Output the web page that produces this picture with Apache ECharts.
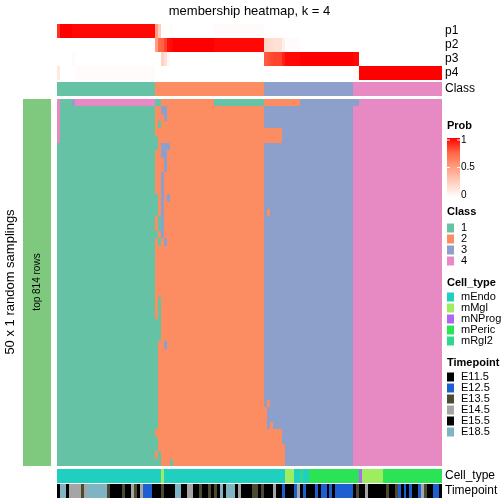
<!DOCTYPE html>
<html><head><meta charset="utf-8">
<script src="https://cdn.jsdelivr.net/npm/echarts@6/dist/echarts.min.js"></script>
<style>html,body{margin:0;padding:0;background:#fff}#c{width:504px;height:504px}</style>
</head><body><div id="c"></div>
<script>
// ---------------- data ----------------
const titleText = 'membership heatmap, k = 4';
const probRowLabels = ['p1', 'p2', 'p3', 'p4'];
const classNames = ['1', '2', '3', '4'];
const cellTypeNames = ['mEndo', 'mMgl', 'mNProg', 'mPeric', 'mRgl2'];
const timepointNames = ['E11.5', 'E12.5', 'E13.5', 'E14.5', 'E15.5', 'E18.5'];
const nSamplings = 50;
const probTicks = [0, 0.5, 1];

// column class, run-length [class, count]
const columnClassRuns = [[1, 33], [2, 37], [3, 30], [4, 30]];
// membership probabilities per column, run-length [value, count]
const p1Runs = [[0.88,1],[1,4],[0.98,28],[0.5,1],[0.26,1],[0,3],[0.02,1],[0,14],[0.02,17],[0,60]];
const p2Runs = [[0,33],[0.5,1],[0.74,1],[0.76,1],[0.84,1],[0.96,1],[0.98,1],[1,14],[0.98,17],[0.22,1],[0.2,1],[0.18,1],[0.16,3],[0.08,1],[0.02,5],[0,48]];
const p3Runs = [[0,5],[0.02,1],[0,29],[0.24,1],[0.16,1],[0.04,1],[0,32],[0.78,1],[0.8,1],[0.82,1],[0.84,3],[0.92,1],[0.98,5],[1,18],[0.98,2],[0,28]];
const p4Runs = [[0.12,1],[0,5],[0.02,27],[0,67],[0.02,2],[1,28]];
// sampling rows whose class differs from the column class: [rowFrom, rowTo, colFrom, colTo, class]
const samplingOverrides = [
  [0,0,0,0,4],[0,0,1,4,1],[0,0,5,5,3],[0,0,6,32,4],[0,0,33,34,1],[0,0,53,69,1],[0,0,70,81,2],[0,0,100,101,3],
  [1,5,0,0,4],
  [1,1,35,36,3],[2,2,36,36,3],[3,3,34,34,1],[4,5,70,75,2],[5,6,33,33,1],[6,6,35,37,3],[7,7,35,36,3],[8,9,36,36,3],
  [10,18,35,35,3],[13,15,33,33,1],[13,13,37,37,3],[15,15,71,71,2],[16,17,34,34,1],[18,18,33,33,1],[19,19,34,34,1],[19,19,36,36,3],
  [27,29,34,34,1],[30,32,33,34,1],[33,33,33,33,1],[33,33,36,36,3],[34,44,33,33,1],[41,41,71,71,2],[42,44,70,70,2],[44,44,72,72,2],
  [45,46,70,75,2],[46,47,33,33,1],[47,49,70,76,2],[48,48,34,34,1],[49,49,33,34,1],[49,49,38,38,1]
];
// cell type per column (index into cellTypeNames), run-length
const cellTypeRuns = [[0,35],[1,1],[0,41],[1,3],[0,2],[4,1],[0,2],[3,17],[2,1],[1,7],[3,20]];
// timepoint per column (index into timepointNames), run-length
const timepointRuns = [[0,1],[5,2],[0,1],[3,4],[2,1],[3,1],[5,7],[2,1],[0,4],[2,1],[0,2],[3,1],[2,1],[0,1],[3,1],[1,3],[0,3],[2,1],[0,4],[5,2],[0,2],[3,2],[0,2],[2,1],[0,2],[2,1],[0,1],[2,1],[0,1],[5,1],[0,1],[5,3],[0,1],[3,1],[0,4],[2,2],[0,1],[2,1],[0,3],[3,1],[0,2],[1,1],[0,3],[1,1],[3,1],[0,1],[1,1],[0,3],[1,1],[0,1],[1,2],[0,1],[1,1],[0,1],[1,6],[0,1],[2,1],[0,2],[3,1],[0,6],[2,1],[0,2],[2,1],[1,1],[0,1],[1,1],[0,1],[1,1],[0,2],[1,1],[3,1],[2,1],[0,2],[1,2],[0,1]];

// ---------------- styles ----------------
const probColors = ['#ffffff', '#ffcfbf', '#ff9e81', '#ff6746', '#ff0000'];
const classColors = ['#66c2a5', '#fc8d62', '#8da0cb', '#e78ac3'];
const cellTypeColors = ['#1fcfbf', '#9ded5f', '#b066f2', '#2ae456', '#33d68f'];
const timepointColors = ['#000000', '#1c5fd1', '#4d4a31', '#a5a5a5', '#040404', '#7fb4c3'];
const barColor = '#7fc97f';
const FONT = '"Liberation Sans", Arial, Helvetica, sans-serif';

function expandRuns(runs) { const out = []; runs.forEach(([v, n]) => { for (let i = 0; i < n; i++) out.push(v); }); return out; }

const colClass = expandRuns(columnClassRuns);
const probs = [p1Runs, p2Runs, p3Runs, p4Runs].map(expandRuns);
const cellTypes = expandRuns(cellTypeRuns);
const timepoints = expandRuns(timepointRuns);
const colLabels = colClass.map((_, i) => String(i));
const rowLabels = Array.from({length: nSamplings}, (_, i) => String(i + 1));

const matrix = rowLabels.map(() => colClass.slice());
samplingOverrides.forEach(([r0, r1, c0, c1, k]) => { for (let r = r0; r <= r1; r++) for (let c = c0; c <= c1; c++) matrix[r][c] = k; });

const probData = [];
probs.forEach((arr, r) => arr.forEach((v, c) => probData.push([c, r, v])));
const classData = colClass.map((k, c) => [c, 0, k]);
const mainData = [];
matrix.forEach((row, r) => row.forEach((k, c) => mainData.push([c, r, k])));
const cellData = cellTypes.map((k, c) => [c, 0, k]);
const timeData = timepoints.map((k, c) => [c, 0, k]);

// ---------------- layout ----------------
const L = 57, W = 385;
const grids = [
  {left: L, width: W, top: 24, height: 56},
  {left: L, width: W, top: 82, height: 14},
  {left: L, width: W, top: 99, height: 367},
  {left: L, width: W, top: 469, height: 14},
  {left: L, width: W, top: 484, height: 14},
  {left: 23, width: 28, top: 99, height: 367}
].map(g => Object.assign({outerBoundsMode: 'none', containLabel: false, show: false}, g));

const hiddenX = (gi, data) => ({type: 'category', gridIndex: gi, data: data, show: false, boundaryGap: true});
const rightY = (gi, data, show) => ({
  type: 'category', gridIndex: gi, data: data, inverse: true, position: 'right', show: true,
  axisLine: {show: false}, axisTick: {show: false}, splitLine: {show: false},
  axisLabel: {show: show, interval: 0, margin: 3, fontSize: 12, color: '#000', fontFamily: FONT}
});

// cells drawn through the axes' own coordinate mapping
function renderCell(params, api) {
  const p = api.coord([api.value(0), api.value(1)]);
  const s = api.size([1, 1]);
  const x0 = Math.round(p[0] - s[0] / 2), x1 = Math.round(p[0] + s[0] / 2);
  const y0 = Math.round(p[1] - s[1] / 2), y1 = Math.round(p[1] + s[1] / 2);
  return {type: 'rect', shape: {x: x0, y: y0, width: x1 - x0, height: y1 - y0},
    style: {fill: api.visual('color'), stroke: null}};
}
const cells = (xi, data) => ({
  type: 'custom', xAxisIndex: xi, yAxisIndex: xi, data: data, renderItem: renderCell,
  encode: {x: 0, y: 1}, silent: true, animation: false, progressive: 0
});

// legend graphics
const LX = 447, TX = 461;
const g = [];
const txt = (x, y, s, opt) => g.push({type: 'text', x: x, y: y, silent: true, z: 100,
  style: Object.assign({text: s, fill: '#000', font: '11px ' + FONT, verticalAlign: 'middle'}, opt || {})});
txt(249.5, 11, titleText, {font: '13px ' + FONT, align: 'center'});
g.push({type: 'text', x: 10, y: 282, rotation: Math.PI / 2, silent: true, z: 100,
  style: {text: '50 x 1 random samplings', fill: '#000', font: '13px ' + FONT, align: 'center', verticalAlign: 'middle'}});
g.push({type: 'text', x: 37, y: 282, rotation: Math.PI / 2, silent: true, z: 100,
  style: {text: 'top 814 rows', fill: '#000', font: '10px ' + FONT, align: 'center', verticalAlign: 'middle'}});

// Prob legend
txt(LX, 126, 'Prob', {font: 'bold 11px ' + FONT});
const barTop = 138, barH = 59;
g.push({type: 'rect', shape: {x: LX, y: barTop, width: 13, height: barH}, silent: true, z: 100,
  style: {fill: new echarts.graphic.LinearGradient(0, 1, 0, 0, probColors.map((c, i) => ({offset: i / (probColors.length - 1), color: c})))}});
probTicks.forEach(t => {
  const y = barTop + 2 + (1 - t) * (barH - 4);
  txt(TX, y, String(t), {font: '10px ' + FONT});
  if (t > 0) {
    g.push({type: 'line', z: 101, shape: {x1: LX, y1: y, x2: LX + 3, y2: y}, style: {stroke: '#fff', lineWidth: 1}, silent: true});
    g.push({type: 'line', z: 101, shape: {x1: LX + 10, y1: y, x2: LX + 13, y2: y}, style: {stroke: '#fff', lineWidth: 1}, silent: true});
  }
});
function legendBlock(title, titleY, names, colors, firstY) {
  txt(LX, titleY, title, {font: 'bold 11px ' + FONT});
  names.forEach((n, i) => {
    const y = firstY + i * 11;
    g.push({type: 'rect', z: 100, shape: {x: LX, y: y - 4.5, width: 7, height: 9}, style: {fill: colors[i]}, silent: true});
    txt(TX, y, n, {font: '11px ' + FONT});
  });
}
legendBlock('Class', 212, classNames, classColors, 228);
legendBlock('Cell_type', 283, cellTypeNames, cellTypeColors, 297);
legendBlock('Timepoint', 363, timepointNames, timepointColors, 377);

const option = {
  animation: false,
  backgroundColor: '#fff',
  grid: grids,
  xAxis: [hiddenX(0, colLabels), hiddenX(1, colLabels), hiddenX(2, colLabels), hiddenX(3, colLabels), hiddenX(4, colLabels), hiddenX(5, ['bar'])],
  yAxis: [rightY(0, probRowLabels, true), rightY(1, ['Class'], true), rightY(2, rowLabels, false),
          rightY(3, ['Cell_type'], true), rightY(4, ['Timepoint'], true), rightY(5, ['rows'], false)],
  visualMap: [
    {type: 'continuous', show: false, seriesIndex: 0, dimension: 2, min: 0, max: 1, inRange: {color: probColors}},
    {type: 'piecewise', show: false, seriesIndex: [1, 2], dimension: 2, pieces: classColors.map((c, i) => ({value: i + 1, color: c}))},
    {type: 'piecewise', show: false, seriesIndex: 3, dimension: 2, pieces: cellTypeColors.map((c, i) => ({value: i, color: c}))},
    {type: 'piecewise', show: false, seriesIndex: 4, dimension: 2, pieces: timepointColors.map((c, i) => ({value: i, color: c}))},
    {type: 'piecewise', show: false, seriesIndex: 5, dimension: 2, pieces: [{value: 1, color: barColor}]}
  ],
  series: [cells(0, probData), cells(1, classData), cells(2, mainData), cells(3, cellData), cells(4, timeData), cells(5, [[0, 0, 1]])],
  graphic: g
};
const chart = echarts.init(document.getElementById('c'), null, {renderer: 'canvas', width: 504, height: 504});
chart.setOption(option);
</script>
</body></html>
